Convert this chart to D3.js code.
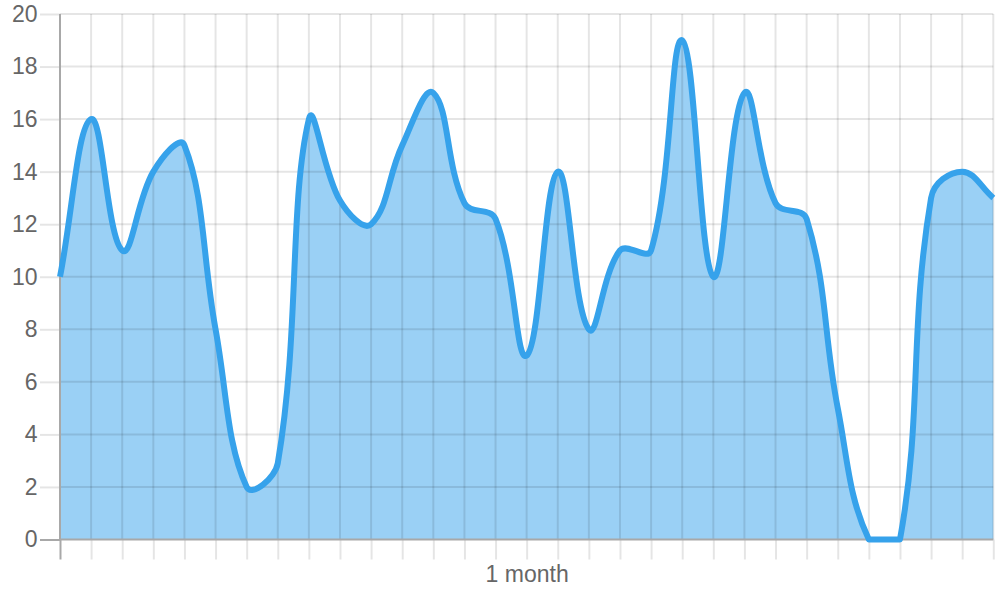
<!DOCTYPE html>
<html>
<head>
<meta charset="utf-8">
<script src="https://cdn.jsdelivr.net/npm/d3@7"></script>
<style>
  body { margin: 0; background: #fff; }
  svg text { font-family: "Liberation Sans", Arial, Helvetica, sans-serif; fill: #666; }
</style>
</head>
<body>
<svg id="chart" width="1000" height="600"></svg>
<script>
// values, one per day
const days = d3.range(31);
const counts = [10, 16, 11, 14, 15, 8, 2, 2.9, 16, 12.9, 12, 15, 17, 12.8, 12.2, 7,
  14, 8, 11, 11, 19, 10, 17, 12.8, 12.2, 5, 0, 0, 13, 14, 13];
const yTicks = [0, 2, 4, 6, 8, 10, 12, 14, 16, 18, 20];
const xLabel = "1 month";
const labelIndex = 15;

const svg = d3.select("svg#chart");
const margin = { top: 14, right: 6.7, bottom: 60.5, left: 60 };
const width = 1000, height = 600;

const xScale = d3.scaleLinear()
  .domain([0, days.length - 1])
  .range([margin.left, width - margin.right]);

const yScale = d3.scaleLinear()
  .domain([0, 20])
  .range([height - margin.bottom, margin.top]);

const gridColor = "rgba(0,0,0,0.1)";
const axisColor = "#a8a8a8";

// axes with long outside ticks
const yAxis = svg.append("g")
  .attr("transform", `translate(${margin.left},0)`)
  .call(d3.axisLeft(yScale).tickValues(yTicks).tickSize(20).tickPadding(2.5));

const xAxis = svg.append("g")
  .attr("transform", `translate(0,${height - margin.bottom})`)
  .call(d3.axisBottom(xScale).tickValues(days).tickSize(20).tickPadding(6)
    .tickFormat(d => d === labelIndex ? xLabel : ""));

[yAxis, xAxis].forEach(ax => {
  ax.select(".domain").remove();
  ax.selectAll(".tick line")
    .attr("stroke", d => d === 0 ? axisColor : gridColor)
    .attr("stroke-width", 2);
  ax.selectAll("text").style("font-size", "23px").attr("fill", "#666");
});

// spline like the original (tension 0.4, control points kept in the chart area)
const pts = counts.map((v, i) => [xScale(days[i]), yScale(v)]);
const tension = 0.4;
const cap = (p) => [
  Math.max(margin.left, Math.min(width - margin.right, p[0])),
  Math.max(margin.top, Math.min(height - margin.bottom, p[1]))
];
const ctrl = pts.map((cur, i) => {
  const prev = pts[i - 1] || cur;
  const next = pts[i + 1] || cur;
  const d01 = Math.hypot(cur[0] - prev[0], cur[1] - prev[1]);
  const d12 = Math.hypot(next[0] - cur[0], next[1] - cur[1]);
  let s01 = d01 / (d01 + d12);
  let s12 = d12 / (d01 + d12);
  if (isNaN(s01)) s01 = 0;
  if (isNaN(s12)) s12 = 0;
  const fa = tension * s01, fb = tension * s12;
  return {
    before: cap([cur[0] - fa * (next[0] - prev[0]), cur[1] - fa * (next[1] - prev[1])]),
    after: cap([cur[0] + fb * (next[0] - prev[0]), cur[1] + fb * (next[1] - prev[1])])
  };
});

function curvePath(closed) {
  const p = d3.path();
  p.moveTo(pts[0][0], pts[0][1]);
  for (let i = 1; i < pts.length; i++) {
    const a = ctrl[i - 1].after, b = ctrl[i].before;
    p.bezierCurveTo(a[0], a[1], b[0], b[1], pts[i][0], pts[i][1]);
  }
  if (closed) {
    p.lineTo(pts[pts.length - 1][0], yScale(0));
    p.lineTo(pts[0][0], yScale(0));
    p.closePath();
  }
  return p.toString();
}

svg.append("path")
  .attr("d", curvePath(true))
  .attr("fill", "rgba(54,162,235,0.5)");

// grid lines over the fill, under the line
svg.append("g")
  .selectAll("line")
  .data(yTicks.filter(d => d !== 0))
  .enter()
  .append("line")
  .attr("x1", margin.left)
  .attr("x2", width - margin.right)
  .attr("y1", d => yScale(d))
  .attr("y2", d => yScale(d))
  .attr("stroke", gridColor)
  .attr("stroke-width", 2);

svg.append("g")
  .selectAll("line")
  .data(days.filter(d => d !== 0))
  .enter()
  .append("line")
  .attr("x1", d => xScale(d))
  .attr("x2", d => xScale(d))
  .attr("y1", margin.top)
  .attr("y2", height - margin.bottom)
  .attr("stroke", gridColor)
  .attr("stroke-width", 2);

// axis lines
svg.append("line")
  .attr("x1", margin.left).attr("x2", margin.left)
  .attr("y1", margin.top).attr("y2", height - margin.bottom)
  .attr("stroke", axisColor).attr("stroke-width", 2);
svg.append("line")
  .attr("x1", margin.left).attr("x2", width - margin.right)
  .attr("y1", height - margin.bottom).attr("y2", height - margin.bottom)
  .attr("stroke", axisColor).attr("stroke-width", 2);

svg.append("path")
  .attr("d", curvePath(false))
  .attr("fill", "none")
  .attr("stroke", "rgb(54,162,235)")
  .attr("stroke-width", 6)
  .attr("stroke-linejoin", "round");
</script>
</body>
</html>
